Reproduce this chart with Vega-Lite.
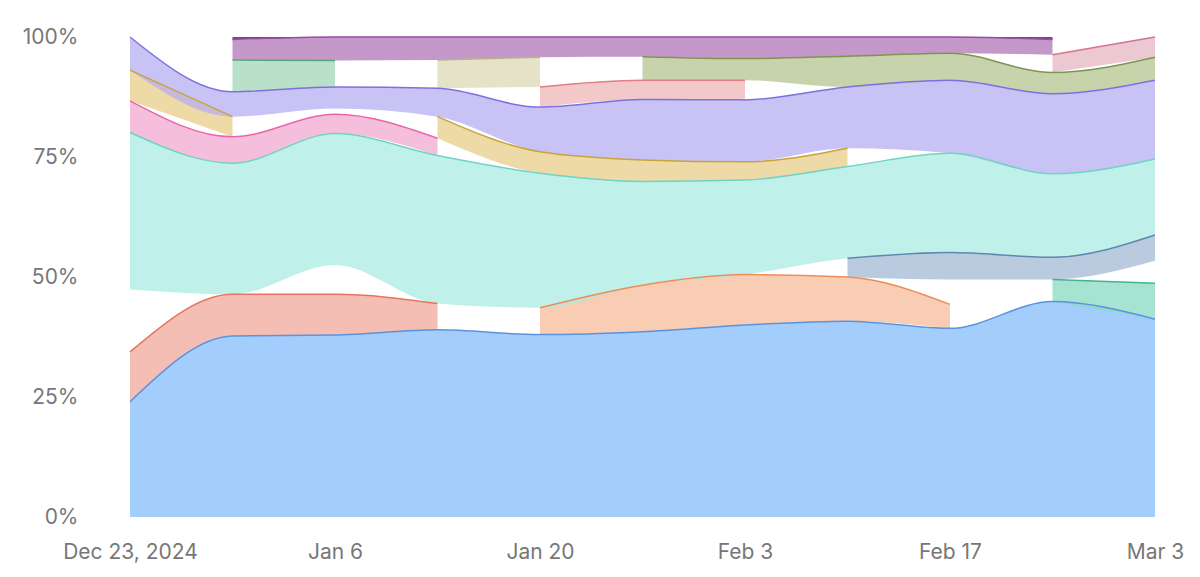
{
  "$schema": "https://vega.github.io/schema/vega-lite/v6.json",
  "width": 1025,
  "height": 480,
  "autosize": {"type": "none"},
  "padding": {"left": 130, "top": 37, "right": 45, "bottom": 60},
  "background": "white",
  "config": {
    "view": {"stroke": null},
    "axis": {
      "labelFont": "Inter",
      "labelFontSize": 21,
      "labelColor": "#777777",
      "grid": false,
      "domain": false,
      "ticks": false,
      "title": null
    }
  },
  "data": {
    "values": [
      {"date": "2024-12-23", "series": "s01", "value": 24.0},
      {"date": "2024-12-30", "series": "s01", "value": 37.7},
      {"date": "2025-01-06", "series": "s01", "value": 37.9},
      {"date": "2025-01-13", "series": "s01", "value": 39.0},
      {"date": "2025-01-20", "series": "s01", "value": 38.0},
      {"date": "2025-01-27", "series": "s01", "value": 38.6},
      {"date": "2025-02-03", "series": "s01", "value": 40.0},
      {"date": "2025-02-10", "series": "s01", "value": 40.8},
      {"date": "2025-02-17", "series": "s01", "value": 39.3},
      {"date": "2025-02-24", "series": "s01", "value": 44.9},
      {"date": "2025-03-03", "series": "s01", "value": 41.2},

      {"date": "2024-12-23", "series": "s02", "value": 10.4},
      {"date": "2024-12-30", "series": "s02", "value": 8.7},
      {"date": "2025-01-06", "series": "s02", "value": 8.5},
      {"date": "2025-01-13", "series": "s02", "value": 5.5},
      {"date": "2025-01-20", "series": "s02", "value": null},
      {"date": "2025-01-27", "series": "s02", "value": null},
      {"date": "2025-02-03", "series": "s02", "value": null},
      {"date": "2025-02-10", "series": "s02", "value": null},
      {"date": "2025-02-17", "series": "s02", "value": null},
      {"date": "2025-02-24", "series": "s02", "value": null},
      {"date": "2025-03-03", "series": "s02", "value": null},

      {"date": "2024-12-23", "series": "s03", "value": null},
      {"date": "2024-12-30", "series": "s03", "value": null},
      {"date": "2025-01-06", "series": "s03", "value": null},
      {"date": "2025-01-13", "series": "s03", "value": null},
      {"date": "2025-01-20", "series": "s03", "value": 5.6},
      {"date": "2025-01-27", "series": "s03", "value": 9.7},
      {"date": "2025-02-03", "series": "s03", "value": 10.5},
      {"date": "2025-02-10", "series": "s03", "value": 9.2},
      {"date": "2025-02-17", "series": "s03", "value": 5.0},
      {"date": "2025-02-24", "series": "s03", "value": null},
      {"date": "2025-03-03", "series": "s03", "value": null},

      {"date": "2024-12-23", "series": "s04", "value": null},
      {"date": "2024-12-30", "series": "s04", "value": null},
      {"date": "2025-01-06", "series": "s04", "value": null},
      {"date": "2025-01-13", "series": "s04", "value": null},
      {"date": "2025-01-20", "series": "s04", "value": null},
      {"date": "2025-01-27", "series": "s04", "value": null},
      {"date": "2025-02-03", "series": "s04", "value": null},
      {"date": "2025-02-10", "series": "s04", "value": null},
      {"date": "2025-02-17", "series": "s04", "value": null},
      {"date": "2025-02-24", "series": "s04", "value": 4.6},
      {"date": "2025-03-03", "series": "s04", "value": 7.5},

      {"date": "2024-12-23", "series": "s05", "value": 13.0},
      {"date": "2024-12-30", "series": "s05", "value": null},
      {"date": "2025-01-06", "series": "s05", "value": 6.1},
      {"date": "2025-01-13", "series": "s05", "value": null},
      {"date": "2025-01-20", "series": "s05", "value": null},
      {"date": "2025-01-27", "series": "s05", "value": null},
      {"date": "2025-02-03", "series": "s05", "value": null},
      {"date": "2025-02-10", "series": "s05", "value": null},
      {"date": "2025-02-17", "series": "s05", "value": 5.2},
      {"date": "2025-02-24", "series": "s05", "value": null},
      {"date": "2025-03-03", "series": "s05", "value": 4.7},

      {"date": "2024-12-23", "series": "s06", "value": null},
      {"date": "2024-12-30", "series": "s06", "value": null},
      {"date": "2025-01-06", "series": "s06", "value": null},
      {"date": "2025-01-13", "series": "s06", "value": null},
      {"date": "2025-01-20", "series": "s06", "value": null},
      {"date": "2025-01-27", "series": "s06", "value": null},
      {"date": "2025-02-03", "series": "s06", "value": null},
      {"date": "2025-02-10", "series": "s06", "value": 3.9},
      {"date": "2025-02-17", "series": "s06", "value": 5.6},
      {"date": "2025-02-24", "series": "s06", "value": 4.6},
      {"date": "2025-03-03", "series": "s06", "value": 5.35},

      {"date": "2024-12-23", "series": "s07", "value": 32.7},
      {"date": "2024-12-30", "series": "s07", "value": 27.3},
      {"date": "2025-01-06", "series": "s07", "value": 27.4},
      {"date": "2025-01-13", "series": "s07", "value": 30.8},
      {"date": "2025-01-20", "series": "s07", "value": 28.0},
      {"date": "2025-01-27", "series": "s07", "value": 21.6},
      {"date": "2025-02-03", "series": "s07", "value": 19.7},
      {"date": "2025-02-10", "series": "s07", "value": 19.1},
      {"date": "2025-02-17", "series": "s07", "value": 20.7},
      {"date": "2025-02-24", "series": "s07", "value": 17.4},
      {"date": "2025-03-03", "series": "s07", "value": 15.85},

      {"date": "2024-12-23", "series": "s08", "value": 6.6},
      {"date": "2024-12-30", "series": "s08", "value": 5.5},
      {"date": "2025-01-06", "series": "s08", "value": 4.0},
      {"date": "2025-01-13", "series": "s08", "value": 3.6},
      {"date": "2025-01-20", "series": "s08", "value": null},
      {"date": "2025-01-27", "series": "s08", "value": null},
      {"date": "2025-02-03", "series": "s08", "value": null},
      {"date": "2025-02-10", "series": "s08", "value": null},
      {"date": "2025-02-17", "series": "s08", "value": null},
      {"date": "2025-02-24", "series": "s08", "value": null},
      {"date": "2025-03-03", "series": "s08", "value": null},

      {"date": "2024-12-23", "series": "s09", "value": null},
      {"date": "2024-12-30", "series": "s09", "value": null},
      {"date": "2025-01-06", "series": "s09", "value": 1.2},
      {"date": "2025-01-13", "series": "s09", "value": null},
      {"date": "2025-01-20", "series": "s09", "value": null},
      {"date": "2025-01-27", "series": "s09", "value": null},
      {"date": "2025-02-03", "series": "s09", "value": null},
      {"date": "2025-02-10", "series": "s09", "value": null},
      {"date": "2025-02-17", "series": "s09", "value": null},
      {"date": "2025-02-24", "series": "s09", "value": null},
      {"date": "2025-03-03", "series": "s09", "value": null},

      {"date": "2024-12-23", "series": "s10", "value": 6.4},
      {"date": "2024-12-30", "series": "s10", "value": 4.2},
      {"date": "2025-01-06", "series": "s10", "value": null},
      {"date": "2025-01-13", "series": "s10", "value": 4.5},
      {"date": "2025-01-20", "series": "s10", "value": 4.5},
      {"date": "2025-01-27", "series": "s10", "value": 4.5},
      {"date": "2025-02-03", "series": "s10", "value": 3.8},
      {"date": "2025-02-10", "series": "s10", "value": 3.8},
      {"date": "2025-02-17", "series": "s10", "value": null},
      {"date": "2025-02-24", "series": "s10", "value": null},
      {"date": "2025-03-03", "series": "s10", "value": null},

      {"date": "2024-12-23", "series": "s11", "value": 6.9},
      {"date": "2024-12-30", "series": "s11", "value": 5.2},
      {"date": "2025-01-06", "series": "s11", "value": 4.5},
      {"date": "2025-01-13", "series": "s11", "value": 5.9},
      {"date": "2025-01-20", "series": "s11", "value": 9.3},
      {"date": "2025-01-27", "series": "s11", "value": 12.6},
      {"date": "2025-02-03", "series": "s11", "value": 12.9},
      {"date": "2025-02-10", "series": "s11", "value": 12.8},
      {"date": "2025-02-17", "series": "s11", "value": 15.2},
      {"date": "2025-02-24", "series": "s11", "value": 16.7},
      {"date": "2025-03-03", "series": "s11", "value": 16.4},

      {"date": "2024-12-23", "series": "s12", "value": null},
      {"date": "2024-12-30", "series": "s12", "value": null},
      {"date": "2025-01-06", "series": "s12", "value": null},
      {"date": "2025-01-13", "series": "s12", "value": null},
      {"date": "2025-01-20", "series": "s12", "value": 4.2},
      {"date": "2025-01-27", "series": "s12", "value": 4.0},
      {"date": "2025-02-03", "series": "s12", "value": 4.1},
      {"date": "2025-02-10", "series": "s12", "value": null},
      {"date": "2025-02-17", "series": "s12", "value": null},
      {"date": "2025-02-24", "series": "s12", "value": null},
      {"date": "2025-03-03", "series": "s12", "value": null},

      {"date": "2024-12-23", "series": "s13", "value": null},
      {"date": "2024-12-30", "series": "s13", "value": 6.6},
      {"date": "2025-01-06", "series": "s13", "value": 5.5},
      {"date": "2025-01-13", "series": "s13", "value": null},
      {"date": "2025-01-20", "series": "s13", "value": null},
      {"date": "2025-01-27", "series": "s13", "value": null},
      {"date": "2025-02-03", "series": "s13", "value": null},
      {"date": "2025-02-10", "series": "s13", "value": null},
      {"date": "2025-02-17", "series": "s13", "value": null},
      {"date": "2025-02-24", "series": "s13", "value": null},
      {"date": "2025-03-03", "series": "s13", "value": null},

      {"date": "2024-12-23", "series": "s14", "value": null},
      {"date": "2024-12-30", "series": "s14", "value": null},
      {"date": "2025-01-06", "series": "s14", "value": null},
      {"date": "2025-01-13", "series": "s14", "value": 5.9},
      {"date": "2025-01-20", "series": "s14", "value": 6.2},
      {"date": "2025-01-27", "series": "s14", "value": null},
      {"date": "2025-02-03", "series": "s14", "value": null},
      {"date": "2025-02-10", "series": "s14", "value": null},
      {"date": "2025-02-17", "series": "s14", "value": null},
      {"date": "2025-02-24", "series": "s14", "value": null},
      {"date": "2025-03-03", "series": "s14", "value": null},

      {"date": "2024-12-23", "series": "s15", "value": null},
      {"date": "2024-12-30", "series": "s15", "value": null},
      {"date": "2025-01-06", "series": "s15", "value": null},
      {"date": "2025-01-13", "series": "s15", "value": null},
      {"date": "2025-01-20", "series": "s15", "value": null},
      {"date": "2025-01-27", "series": "s15", "value": 4.9},
      {"date": "2025-02-03", "series": "s15", "value": 4.5},
      {"date": "2025-02-10", "series": "s15", "value": 6.4},
      {"date": "2025-02-17", "series": "s15", "value": 5.6},
      {"date": "2025-02-24", "series": "s15", "value": 4.4},
      {"date": "2025-03-03", "series": "s15", "value": 4.8},

      {"date": "2024-12-23", "series": "s16", "value": null},
      {"date": "2024-12-30", "series": "s16", "value": null},
      {"date": "2025-01-06", "series": "s16", "value": null},
      {"date": "2025-01-13", "series": "s16", "value": null},
      {"date": "2025-01-20", "series": "s16", "value": null},
      {"date": "2025-01-27", "series": "s16", "value": null},
      {"date": "2025-02-03", "series": "s16", "value": null},
      {"date": "2025-02-10", "series": "s16", "value": null},
      {"date": "2025-02-17", "series": "s16", "value": null},
      {"date": "2025-02-24", "series": "s16", "value": 3.7},
      {"date": "2025-03-03", "series": "s16", "value": 4.2},

      {"date": "2024-12-23", "series": "s17", "value": null},
      {"date": "2024-12-30", "series": "s17", "value": 4.3},
      {"date": "2025-01-06", "series": "s17", "value": 4.9},
      {"date": "2025-01-13", "series": "s17", "value": 4.8},
      {"date": "2025-01-20", "series": "s17", "value": 4.2},
      {"date": "2025-01-27", "series": "s17", "value": 4.1},
      {"date": "2025-02-03", "series": "s17", "value": 4.5},
      {"date": "2025-02-10", "series": "s17", "value": 4.0},
      {"date": "2025-02-17", "series": "s17", "value": 3.4},
      {"date": "2025-02-24", "series": "s17", "value": 3.2},
      {"date": "2025-03-03", "series": "s17", "value": null},

      {"date": "2024-12-23", "series": "s18", "value": null},
      {"date": "2024-12-30", "series": "s18", "value": 0.5},
      {"date": "2025-01-06", "series": "s18", "value": 0},
      {"date": "2025-01-13", "series": "s18", "value": null},
      {"date": "2025-01-20", "series": "s18", "value": null},
      {"date": "2025-01-27", "series": "s18", "value": null},
      {"date": "2025-02-03", "series": "s18", "value": null},
      {"date": "2025-02-10", "series": "s18", "value": null},
      {"date": "2025-02-17", "series": "s18", "value": 0},
      {"date": "2025-02-24", "series": "s18", "value": 0.5},
      {"date": "2025-03-03", "series": "s18", "value": null}
    ]
  },
  "encoding": {
    "x": {
      "field": "date",
      "type": "temporal",
      "scale": {
        "type": "utc",
        "nice": false,
        "domain": [
          {"year": 2024, "month": 12, "date": 23, "utc": true},
          {"year": 2025, "month": 3, "date": 3, "utc": true}
        ]
      },
      "axis": {
        "values": [
          {"year": 2024, "month": 12, "date": 23, "utc": true},
          {"year": 2025, "month": 1, "date": 6, "utc": true},
          {"year": 2025, "month": 1, "date": 20, "utc": true},
          {"year": 2025, "month": 2, "date": 3, "utc": true},
          {"year": 2025, "month": 2, "date": 17, "utc": true},
          {"year": 2025, "month": 3, "date": 3, "utc": true}
        ],
        "labelExpr": "datum.index == 0 ? utcFormat(datum.value, '%b %-d, %Y') : utcFormat(datum.value, '%b %-d')",
        "labelFlush": false,
        "labelPadding": 24
      }
    },
    "y": {
      "field": "value",
      "type": "quantitative",
      "stack": "normalize",
      "axis": {
        "values": [0, 0.25, 0.5, 0.75, 1],
        "format": "%",
        "labelPadding": 52
      }
    },
    "order": {"field": "series", "sort": "ascending"}
  },
  "layer": [
    {
      "mark": {
        "type": "area",
        "interpolate": "monotone",
        "fillOpacity": 0.75,
        "invalid": "break-paths-show-domains"
      },
      "encoding": {
        "fill": {
          "field": "series",
          "type": "nominal",
          "legend": null,
          "scale": {
            "domain": ["s01", "s02", "s03", "s04", "s05", "s06", "s07", "s08", "s09", "s10", "s11", "s12", "s13", "s14", "s15", "s16", "s17", "s18"],
            "range": ["#84bcf8", "#f0a89b", "#f6bc9a", "#88dac0", "transparent", "#a3bad6", "#aaece3", "#f2a8d0", "transparent", "#e8ce88", "#b6aff0", "#eeb6b6", "#a2d7b7", "#ded8b6", "#b4c48f", "#e6b6c3", "#b076b7", "#4e0862"]
          }
        }
      }
    },
    {
      "mark": {
        "type": "line",
        "interpolate": "monotone",
        "strokeWidth": 1.5,
        "invalid": "break-paths-show-domains"
      },
      "encoding": {
        "stroke": {
          "field": "series",
          "type": "nominal",
          "legend": null,
          "scale": {
            "domain": ["s01", "s02", "s03", "s04", "s05", "s06", "s07", "s08", "s09", "s10", "s11", "s12", "s13", "s14", "s15", "s16", "s17", "s18"],
            "range": ["#5b93e0", "#e8735f", "#ef8d5a", "#3fb58f", "transparent", "#5d88b3", "#6fd3c6", "#e868a6", "transparent", "#c9a33c", "#7d70e0", "#e07f85", "#5aa57a", "#b9b28a", "#7d9452", "#d8728f", "#9a4aa6", "transparent"]
          }
        }
      }
    }
  ]
}
